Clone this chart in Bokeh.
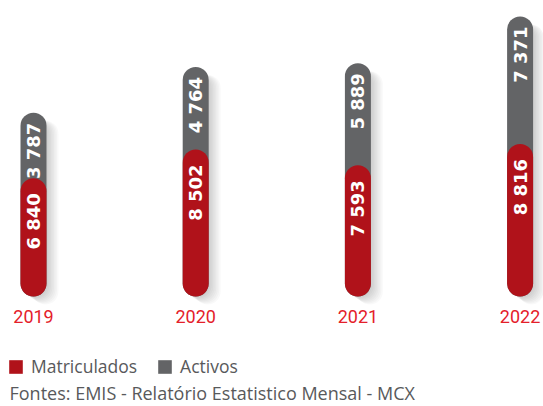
import numpy as np
from bokeh.plotting import figure
from bokeh.models import ColumnDataSource, Label, Legend, LegendItem, Range1d
from bokeh.core.properties import value
from bokeh.embed import file_html
from bokeh.resources import INLINE

# ---- data ----
years = ["2019", "2020", "2021", "2022"]
matriculados = [6840, 8502, 7593, 8816]
activos = [3787, 4764, 5889, 7371]
series_names = ["Matriculados", "Activos"]
source_text = "Fontes: EMIS - Relatório Estatistico Mensal - MCX"

RED = "#b0121a"
GREY = "#636466"
YEAR_RED = "#e4202a"
TEXT_GREY = "#58595b"


def fmt(v):
    return f"{v:,}".replace(",", " ")


x = list(range(len(years)))
totals = [m + a for m, a in zip(matriculados, activos)]
src = ColumnDataSource(dict(
    x=x, year=years, m=matriculados, a=activos, total=totals,
    m_lab=[fmt(v) for v in matriculados], a_lab=[fmt(v) for v in activos],
))

W, H = 543, 406
PX_X = 162.2          # px per category step
UNIT_PER_PX = 57.8    # value units per px
X0 = 33               # px of first bar centre
BASE = 296            # px of bar bottom from top
BW = 26 / PX_X        # bar width (data units)
R = 13                # corner radius px

p = figure(width=W, height=H, output_backend="svg", toolbar_location=None,
           x_range=Range1d(-X0 / PX_X, (W - X0) / PX_X),
           y_range=Range1d(-(H - BASE) * UNIT_PER_PX, BASE * UNIT_PER_PX),
           min_border=0)
p.axis.visible = False
p.grid.visible = False
p.outline_line_color = None
p.background_fill_color = "white"

# soft shadow to the right of each bar
for k in range(1, 9):
    p.vbar(x=[xi + k * 1.5 / PX_X for xi in x],
           top=[t - 8 * UNIT_PER_PX for t in totals],
           bottom=-k * 1.0 * UNIT_PER_PX, width=BW,
           fill_color="black", fill_alpha=0.024, line_color=None,
           border_radius=R)

# grey (Activos) stacked on top, drawn as full pill behind
p.vbar(x="x", top="total", bottom=0, width=BW, source=src,
       fill_color=GREY, line_color=None, border_radius=R)
p.text(x="x", y="total", text="a_lab", source=src, angle=np.pi / 2,
       text_align="right", text_baseline="middle", y_offset=10,
       text_font=value("DejaVu Sans"), text_font_style="bold",
       text_font_size="18px", text_color="white")

# red (Matriculados)
p.vbar(x="x", top="m", bottom=0, width=BW, source=src,
       fill_color=RED, line_color=None, border_radius=R)
p.text(x="x", y="m", text="m_lab", source=src, angle=np.pi / 2,
       text_align="right", text_baseline="middle", y_offset=15,
       text_font=value("DejaVu Sans"), text_font_style="bold",
       text_font_size="18px", text_color="white")

# year labels
p.text(x="x", y=0, text="year", source=src, text_align="center",
       text_baseline="top", y_offset=13, text_font=value("Roboto"),
       text_font_size="18px", text_color=YEAR_RED)

# legend (swatch renderers carry no visible data)
nan = float("nan")
r1 = p.quad(left=[nan], right=[nan], top=[nan], bottom=[nan], fill_color=RED, line_color=None)
r2 = p.quad(left=[nan], right=[nan], top=[nan], bottom=[nan], fill_color=GREY, line_color=None)
legend = Legend(items=[LegendItem(label=series_names[0], renderers=[r1]),
                       LegendItem(label=series_names[1], renderers=[r2])],
                location=(7, 28), orientation="horizontal",
                glyph_width=17, glyph_height=17, label_height=17,
                label_standoff=7, spacing=19, padding=0, margin=0,
                border_line_color=None, background_fill_alpha=0,
                label_text_font="Open Sans", label_text_font_size="17.5px",
                label_text_color=TEXT_GREY)
p.add_layout(legend)

p.add_layout(Label(x=9, y=14, x_units="screen", y_units="screen", text=source_text,
                   text_font="Open Sans", text_font_size="18px",
                   text_color=TEXT_GREY, text_baseline="alphabetic"))

open("out.html", "w").write(file_html(p, INLINE))
